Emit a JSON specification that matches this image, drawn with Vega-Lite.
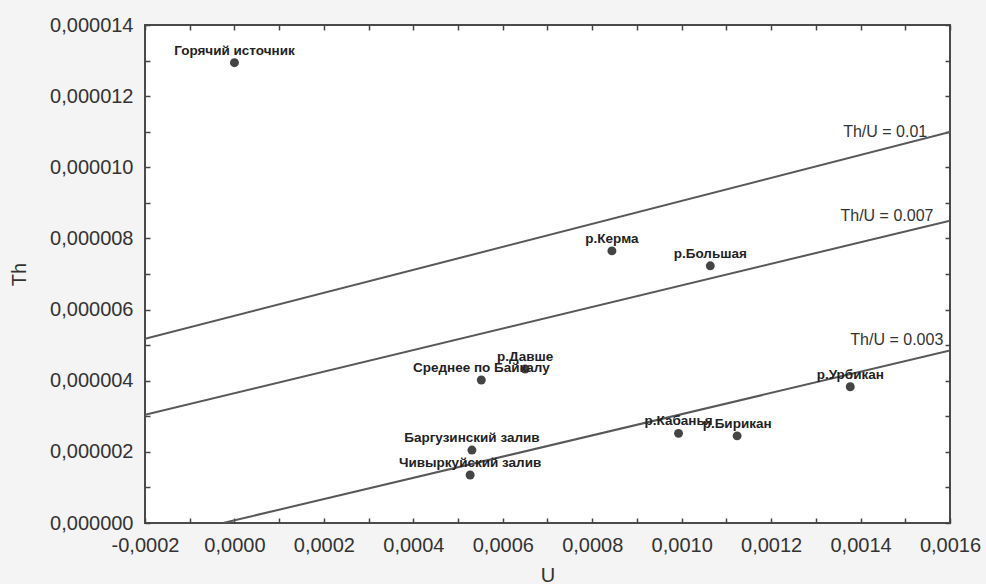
{
  "$schema": "https://vega.github.io/schema/vega-lite/v6.json",
  "width": 805,
  "height": 498,
  "autosize": {"type": "none"},
  "padding": {"left": 145, "top": 25, "right": 36, "bottom": 61},
  "background": "#f4f4f4",
  "config": {
    "font": "Liberation Sans",
    "view": {"fill": "white", "stroke": "#4a4a4a", "strokeWidth": 2},
    "axis": {
      "domain": false,
      "tickSize": -5,
      "tickColor": "#444",
      "tickWidth": 1.5,
      "gridColor": "#d9d9d9",
      "gridWidth": 1,
      "labelFont": "Liberation Sans",
      "labelFontSize": 20,
      "labelColor": "#333",
      "labelOverlap": false,
      "labelFlush": false,
      "titleFont": "Liberation Sans",
      "titleFontSize": 20,
      "titleFontWeight": "normal",
      "titleColor": "#333"
    }
  },
  "datasets": {
    "points": [
      {"name": "Горячий источник", "U": 0.0, "Th": 0.00001294},
      {"name": "р.Керма", "U": 0.000844, "Th": 0.00000765},
      {"name": "р.Большая", "U": 0.001064, "Th": 0.00000723},
      {"name": "Среднее по Байкалу", "U": 0.000552, "Th": 0.00000402},
      {"name": "р.Давше", "U": 0.00065, "Th": 0.00000433},
      {"name": "р.Урбикан", "U": 0.001377, "Th": 0.00000383},
      {"name": "р.Кабанья", "U": 0.000993, "Th": 0.00000252},
      {"name": "р.Бирикан", "U": 0.001124, "Th": 0.00000245},
      {"name": "Баргузинский залив", "U": 0.000531, "Th": 0.00000205},
      {"name": "Чивыркуйский залив", "U": 0.000527, "Th": 0.00000135}
    ],
    "lines": [
      {"series": "0.01", "U": -0.0002, "Th": 0.00000518},
      {"series": "0.01", "U": 0.0016, "Th": 0.00001099},
      {"series": "0.007", "U": -0.0002, "Th": 0.00000304},
      {"series": "0.007", "U": 0.0016, "Th": 0.0000085},
      {"series": "0.003", "U": -0.0000255, "Th": 0.0},
      {"series": "0.003", "U": 0.0016, "Th": 0.00000485}
    ],
    "lineLabels": [
      {"label": "Th/U = 0.01", "U": 0.001549, "Th": 0.00001086},
      {"label": "Th/U = 0.007", "U": 0.001563, "Th": 0.00000849},
      {"label": "Th/U = 0.003", "U": 0.001585, "Th": 0.00000501}
    ]
  },
  "layer": [
    {
      "data": {"name": "lines"},
      "mark": {"type": "line", "color": "#585858", "strokeWidth": 2, "clip": true},
      "encoding": {
        "x": {
          "field": "U", "type": "quantitative",
          "scale": {"domain": [-0.0002, 0.0016], "nice": false, "zero": false},
          "axis": {
            "orient": "top", "labels": false, "grid": false, "title": null,
            "values": [-0.0002, -0.0001, 0, 0.0001, 0.0002, 0.0003, 0.0004, 0.0005, 0.0006, 0.0007, 0.0008, 0.0009, 0.001, 0.0011, 0.0012, 0.0013, 0.0014, 0.0015, 0.0016]
          }
        },
        "y": {
          "field": "Th", "type": "quantitative",
          "scale": {"domain": [0, 0.000014], "nice": false, "zero": false},
          "axis": {
            "orient": "right", "labels": false, "grid": false, "title": null,
            "values": [0, 0.000001, 0.000002, 0.000003, 0.000004, 0.000005, 0.000006, 0.000007, 0.000008, 0.000009, 0.00001, 0.000011, 0.000012, 0.000013, 0.000014]
          }
        },
        "detail": {"field": "series"}
      }
    },
    {
      "data": {"name": "points"},
      "mark": {"type": "circle", "size": 80, "color": "#444", "opacity": 1},
      "encoding": {
        "x": {
          "field": "U", "type": "quantitative",
          "axis": {
            "orient": "bottom", "title": "U", "titleY": 42, "labelPadding": 17.5,
            "values": [-0.0002, -0.0001, 0, 0.0001, 0.0002, 0.0003, 0.0004, 0.0005, 0.0006, 0.0007, 0.0008, 0.0009, 0.001, 0.0011, 0.0012, 0.0013, 0.0014, 0.0015, 0.0016],
            "labelExpr": "abs(round(datum.value*10000)) % 2 == 1 ? '' : replace(replace(format(datum.value, '.4f'), '.', ','), '−', '-')",
            "gridOpacity": {"condition": {"test": "abs(round(datum.value*10000)) % 2 == 1", "value": 0}, "value": 1}
          }
        },
        "y": {
          "field": "Th", "type": "quantitative",
          "axis": {
            "orient": "left", "title": "Th", "titleX": -116, "labelPadding": 17,
            "values": [0, 0.000001, 0.000002, 0.000003, 0.000004, 0.000005, 0.000006, 0.000007, 0.000008, 0.000009, 0.00001, 0.000011, 0.000012, 0.000013, 0.000014],
            "labelExpr": "round(datum.value*1000000) % 2 == 1 ? '' : replace(format(datum.value, '.6f'), '.', ',')",
            "gridOpacity": {"condition": {"test": "round(datum.value*1000000) % 2 == 1", "value": 0}, "value": 1}
          }
        }
      }
    },
    {
      "data": {"name": "points"},
      "mark": {"type": "text", "font": "Liberation Sans", "fontSize": 13.5, "fontWeight": "bold", "color": "#222", "align": "center", "baseline": "alphabetic", "dy": -8},
      "encoding": {
        "x": {"field": "U", "type": "quantitative", "axis": null},
        "y": {"field": "Th", "type": "quantitative", "axis": null},
        "text": {"field": "name"}
      }
    },
    {
      "data": {"name": "lineLabels"},
      "mark": {"type": "text", "font": "Liberation Sans", "fontSize": 16, "color": "#333", "align": "right", "baseline": "alphabetic"},
      "encoding": {
        "x": {"field": "U", "type": "quantitative", "axis": null},
        "y": {"field": "Th", "type": "quantitative", "axis": null},
        "text": {"field": "label"}
      }
    }
  ],
  "resolve": {"axis": {"x": "independent", "y": "independent"}}
}
